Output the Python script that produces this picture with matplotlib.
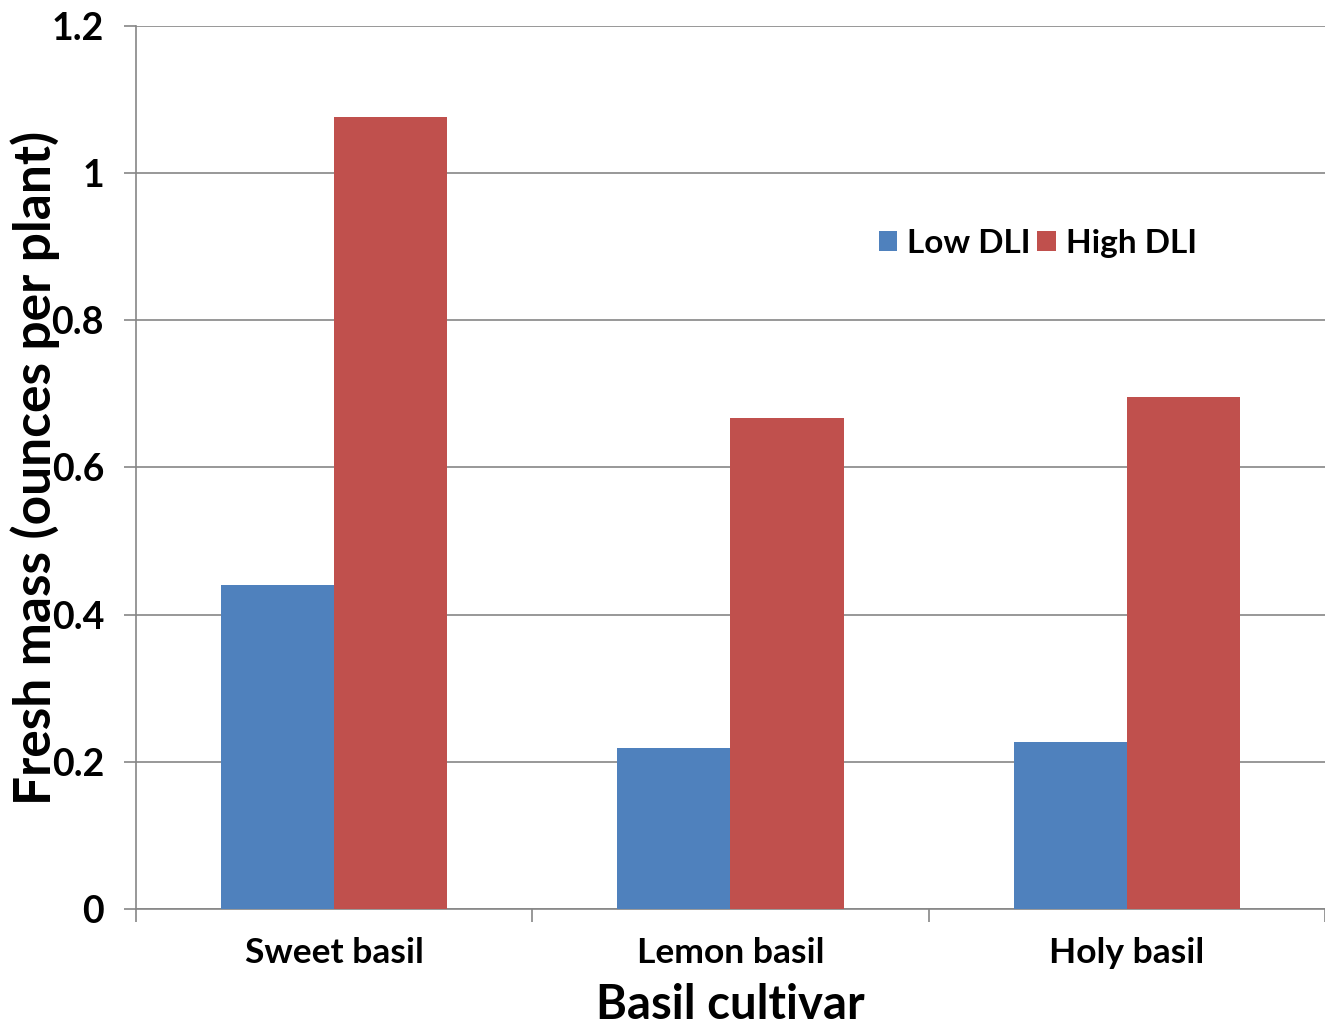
import numpy as np
import matplotlib.pyplot as plt

cultivars = ['Sweet basil', 'Lemon basil', 'Holy basil']
low_dli = [0.44, 0.219, 0.227]
high_dli = [1.076, 0.667, 0.696]
yticks = [0, 0.2, 0.4, 0.6, 0.8, 1, 1.2]
ytick_labels = ['0', '0.2', '0.4', '0.6', '0.8', '1', '1.2']

plt.rcParams['font.family'] = ['Lato', 'DejaVu Sans']
plt.rcParams['font.weight'] = 'bold'

fig = plt.figure(figsize=(13.25, 10.28), dpi=100)
ax = fig.add_axes([0.1026, 0.1158, 0.8974, 0.8589])

x = np.arange(len(cultivars))
w = 1 / 3.5
ax.bar(x - w / 2, low_dli, w, color='#4F81BD', label='Low DLI', zorder=3)
ax.bar(x + w / 2, high_dli, w, color='#C0504D', label='High DLI', zorder=3)

ax.set_xlim(-0.5, len(cultivars) - 0.5)
ax.set_ylim(0, 1.2)
ax.set_yticks(yticks)
ax.set_yticklabels(ytick_labels, fontsize=27, fontweight='bold')
ax.set_xticks(x)
ax.set_xticklabels(cultivars, fontsize=25.5, fontweight='bold')
ax.set_xticks(np.arange(len(cultivars) + 1) - 0.5, minor=True)
ax.tick_params(axis='x', which='major', length=0, pad=20)
ax.tick_params(axis='x', which='minor', length=9, color='#868686', width=1.2)
ax.tick_params(axis='y', length=9, color='#868686', width=1.2, pad=14)

ax.grid(axis='y', color='#868686', linewidth=1.2, zorder=0)
for s in ['top', 'right']:
    ax.spines[s].set_visible(False)
for s in ['left', 'bottom']:
    ax.spines[s].set_color('#868686')
    ax.spines[s].set_linewidth(1.2)

ax.set_xlabel('Basil cultivar', fontsize=34, fontweight='bold', labelpad=10)
ax.set_ylabel('Fresh mass (ounces per plant)', fontsize=37, fontweight='bold')
ax.yaxis.set_label_coords(-0.064, 0.5)

ax.legend(loc='center left', bbox_to_anchor=(0.653, 0.763), bbox_transform=fig.transFigure,
          frameon=False, ncol=2, fontsize=24, handlelength=0.55, handleheight=0.55,
          handletextpad=0.3, columnspacing=0.2, borderaxespad=0)

fig.savefig('out.png', dpi=100)
